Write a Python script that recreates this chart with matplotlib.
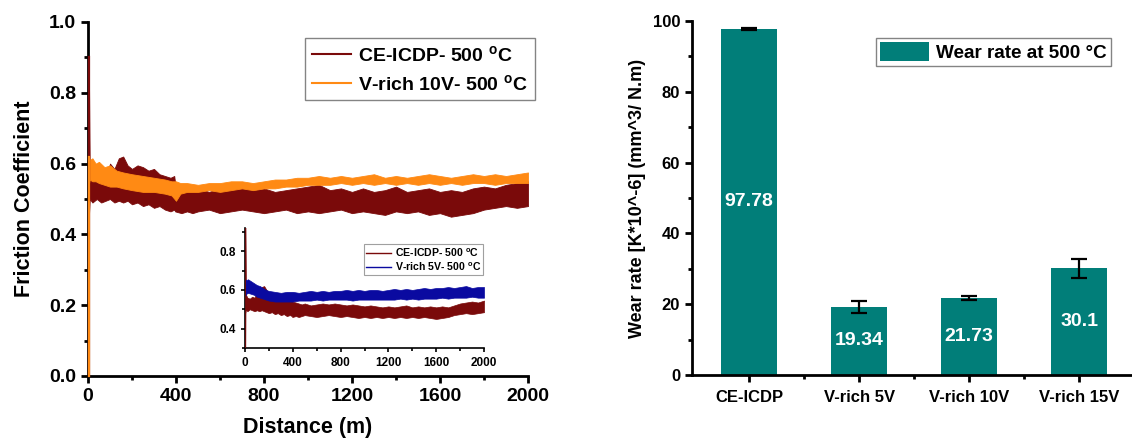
import matplotlib
matplotlib.use("Agg")
import matplotlib.pyplot as plt
from matplotlib.ticker import MultipleLocator, FixedLocator
from matplotlib.lines import Line2D
from matplotlib.patches import Patch

plt.rcParams['font.family'] = ['Liberation Sans', 'DejaVu Sans']
plt.rcParams['font.weight'] = 'bold'
plt.rcParams['mathtext.fontset'] = 'custom'
plt.rcParams['mathtext.rm'] = 'Liberation Sans:bold'
plt.rcParams['mathtext.it'] = 'Liberation Sans:bold'
plt.rcParams['mathtext.bf'] = 'Liberation Sans:bold'

# ---------------- data: friction traces (band envelopes) -------------
d_ce = [0, 4, 8, 20, 40, 60, 80, 100, 120, 140, 160, 180, 200, 225, 250, 275, 300, 325, 350, 375,
        392, 396, 425, 450, 475, 500, 550, 600, 650, 700, 750, 800, 850, 900, 950, 1000, 1050, 1100,
        1150, 1200, 1250, 1300, 1350, 1400, 1450, 1500, 1550, 1600, 1650, 1700, 1750, 1800, 1850,
        1900, 1950, 2000]
ce_hi = [0.90, 0.88, 0.575, 0.56, 0.55, 0.565, 0.555, 0.60, 0.585, 0.615,
         0.62, 0.595, 0.585, 0.595, 0.59, 0.58, 0.585, 0.57, 0.565, 0.56,
         0.565, 0.545, 0.535, 0.53, 0.525, 0.53, 0.52, 0.53, 0.525, 0.535,
         0.525, 0.53, 0.52, 0.525, 0.53, 0.535, 0.54, 0.525, 0.53, 0.52,
         0.53, 0.52, 0.525, 0.535, 0.52, 0.525, 0.53, 0.52, 0.525, 0.52,
         0.53, 0.535, 0.53, 0.54, 0.545, 0.55]
ce_lo = [0.0, 0.45, 0.50, 0.49, 0.50, 0.49, 0.495, 0.50, 0.49, 0.495,
         0.49, 0.495, 0.485, 0.49, 0.48, 0.485, 0.475, 0.48, 0.47, 0.465,
         0.47, 0.465, 0.46, 0.465, 0.46, 0.465, 0.47, 0.46, 0.465, 0.47,
         0.465, 0.46, 0.465, 0.47, 0.46, 0.465, 0.46, 0.465, 0.47, 0.46,
         0.465, 0.46, 0.455, 0.465, 0.46, 0.465, 0.455, 0.46, 0.45, 0.455,
         0.46, 0.47, 0.475, 0.48, 0.475, 0.48]

d_v10 = [0, 3, 8, 20, 35, 50, 75, 100, 130, 160, 200, 250, 300, 350, 380, 400, 420, 450, 500, 550,
         600, 650, 700, 750, 800, 850, 900, 950, 1000, 1050, 1100, 1150, 1200, 1250, 1300, 1350,
         1400, 1450, 1500, 1550, 1600, 1650, 1700, 1750, 1800, 1850, 1900, 1950, 2000]
v10_hi = [0.62, 0.625, 0.61, 0.615, 0.60, 0.605, 0.59, 0.595, 0.58, 0.575,
          0.57, 0.565, 0.56, 0.555, 0.55, 0.55, 0.545, 0.545, 0.54, 0.545,
          0.545, 0.55, 0.55, 0.545, 0.55, 0.555, 0.555, 0.56, 0.56, 0.565,
          0.56, 0.565, 0.56, 0.565, 0.57, 0.56, 0.565, 0.56, 0.565, 0.57,
          0.565, 0.56, 0.565, 0.57, 0.565, 0.57, 0.565, 0.57, 0.575]
v10_lo = [0.0, 0.54, 0.555, 0.55, 0.55, 0.545, 0.54, 0.535, 0.535, 0.53,
          0.525, 0.52, 0.52, 0.515, 0.51, 0.495, 0.515, 0.52, 0.52, 0.525,
          0.52, 0.525, 0.53, 0.525, 0.53, 0.53, 0.535, 0.535, 0.54, 0.54,
          0.54, 0.545, 0.54, 0.545, 0.54, 0.545, 0.54, 0.545, 0.54, 0.545,
          0.54, 0.545, 0.54, 0.545, 0.545, 0.54, 0.545, 0.545, 0.545]

# inset traces
in_ce_hi = [0.95, 0.93, 0.575, 0.56, 0.555, 0.565, 0.56, 0.59, 0.60, 0.615,
            0.62, 0.60, 0.585, 0.58, 0.575, 0.57, 0.565, 0.56, 0.55, 0.545,
            0.55, 0.54, 0.535, 0.53, 0.525, 0.53, 0.52, 0.525, 0.53, 0.525,
            0.53, 0.525, 0.52, 0.525, 0.52, 0.515, 0.52, 0.515, 0.51, 0.515,
            0.51, 0.515, 0.52, 0.51, 0.515, 0.51, 0.515, 0.51, 0.515, 0.51,
            0.52, 0.53, 0.535, 0.54, 0.535, 0.545]
in_ce_lo = [0.0, 0.48, 0.50, 0.49, 0.50, 0.495, 0.49, 0.495, 0.49, 0.495,
            0.49, 0.485, 0.48, 0.485, 0.475, 0.48, 0.47, 0.475, 0.465, 0.47,
            0.465, 0.46, 0.465, 0.46, 0.465, 0.47, 0.465, 0.46, 0.465, 0.47,
            0.465, 0.46, 0.465, 0.46, 0.455, 0.46, 0.455, 0.46, 0.455, 0.46,
            0.455, 0.46, 0.455, 0.46, 0.455, 0.46, 0.455, 0.45, 0.455, 0.46,
            0.47, 0.475, 0.48, 0.475, 0.48, 0.485]

d_v5 = [0, 3, 10, 25, 50, 75, 100, 125, 150, 175,
        200, 250, 300, 350, 400, 450, 500, 550, 600, 650,
        700, 750, 800, 850, 900, 950, 1000, 1050, 1100, 1150,
        1200, 1250, 1300, 1350, 1400, 1450, 1500, 1550, 1600, 1650,
        1700, 1750, 1800, 1850, 1900, 1950, 2000]
v5_hi = [0.60, 0.655, 0.65, 0.655, 0.645, 0.635, 0.625, 0.62, 0.61, 0.60,
         0.595, 0.59, 0.585, 0.59, 0.59, 0.585, 0.59, 0.595, 0.59, 0.595,
         0.59, 0.595, 0.595, 0.60, 0.595, 0.60, 0.595, 0.60, 0.60, 0.595,
         0.60, 0.605, 0.60, 0.605, 0.60, 0.605, 0.61, 0.605, 0.61, 0.61,
         0.615, 0.61, 0.615, 0.62, 0.61, 0.615, 0.615]
v5_lo = [0.58, 0.57, 0.58, 0.585, 0.58, 0.575, 0.565, 0.56, 0.555, 0.55,
         0.545, 0.54, 0.54, 0.54, 0.54, 0.545, 0.545, 0.545, 0.55, 0.545,
         0.55, 0.55, 0.55, 0.55, 0.545, 0.55, 0.55, 0.55, 0.55, 0.55,
         0.55, 0.55, 0.555, 0.55, 0.555, 0.55, 0.555, 0.555, 0.555, 0.56,
         0.555, 0.56, 0.56, 0.56, 0.565, 0.56, 0.56]

# ---------------- data: wear rate bars -------------
categories = ['CE-ICDP', 'V-rich 5V', 'V-rich 10V', 'V-rich 15V']
wear = [97.78, 19.34, 21.73, 30.1]
wear_err = [0.25, 1.7, 0.6, 2.7]
wear_labels = ['97.78', '19.34', '21.73', '30.1']

x_ticks_main = [0, 400, 800, 1200, 1600, 2000]
y_ticks_main = [0.0, 0.2, 0.4, 0.6, 0.8, 1.0]
y_ticks_inset = [0.4, 0.6, 0.8]
y_ticks_bar = [0, 20, 40, 60, 80, 100]

C_CE = '#7a0a0a'
C_V10 = '#ff8a14'
C_V5 = '#0a0aa0'
C_BAR = '#017e79'

W, H = 1132, 441
fig = plt.figure(figsize=(W / 100, H / 100), dpi=100)

def style_axes(ax, lw, major_len, minor_len, labsize):
    for s in ['top', 'right']:
        ax.spines[s].set_visible(False)
    for s in ['left', 'bottom']:
        ax.spines[s].set_linewidth(lw)
    ax.tick_params(which='major', direction='out', length=major_len, width=lw, labelsize=labsize)
    ax.tick_params(which='minor', direction='out', length=minor_len, width=lw)
    for lab in ax.get_xticklabels() + ax.get_yticklabels():
        lab.set_fontweight('bold')

# ---------- main friction plot ----------
ax1 = fig.add_axes([88 / W, (H - 376) / H, 440 / W, 354 / H])
ax1.fill_between(d_ce, ce_lo, ce_hi, color=C_CE, lw=0.6, edgecolor=C_CE)
ax1.fill_between(d_v10, v10_lo, v10_hi, color=C_V10, lw=0.6, edgecolor=C_V10)
# run-in spikes at the start of each trace
ax1.plot([d_ce[1], d_ce[1]], [ce_lo[0], ce_hi[0]], color=C_CE, lw=1.6, zorder=5, clip_on=False)
ax1.plot([d_v10[1], d_v10[1]], [v10_lo[0], v10_hi[0]], color=C_V10, lw=1.6, zorder=6, clip_on=False)
ax1.set_xlim(0, 2000)
ax1.set_ylim(0, 1.0)
ax1.set_xticks(x_ticks_main)
ax1.set_yticks(y_ticks_main)
ax1.set_yticklabels([f'{v:.1f}' for v in y_ticks_main])
ax1.xaxis.set_minor_locator(MultipleLocator(200))
ax1.yaxis.set_minor_locator(MultipleLocator(0.1))
style_axes(ax1, 2.0, 5, 3, 14)
ax1.set_xlabel('Distance (m)', fontsize=15.5, fontweight='bold', labelpad=9)
ax1.set_ylabel('Friction Coefficient', fontsize=15.5, fontweight='bold', labelpad=10)

h_main = [Line2D([], [], color=C_CE, lw=1.5), Line2D([], [], color=C_V10, lw=1.5)]
leg1 = fig.legend(h_main, [r'CE-ICDP- 500 $^\mathrm{o}$C', r'V-rich 10V- 500 $^\mathrm{o}$C'],
                  loc='upper left', bbox_to_anchor=(305 / W, 1 - 38 / H),
                  prop={'size': 14, 'weight': 'bold'}, frameon=True, fancybox=False,
                  edgecolor='#666666', handlelength=2.0, handletextpad=0.4,
                  borderpad=0.35, labelspacing=0.45, borderaxespad=0)
leg1.get_frame().set_linewidth(1.0)

# ---------- inset ----------
axi = fig.add_axes([245 / W, (H - 348) / H, 239 / W, 120 / H])
axi.fill_between(d_ce, in_ce_lo, in_ce_hi, color=C_CE, lw=0.5, edgecolor=C_CE)
axi.fill_between(d_v5, v5_lo, v5_hi, color=C_V5, lw=0.5, edgecolor=C_V5)
axi.plot([d_ce[1], d_ce[1]], [in_ce_lo[0], in_ce_hi[0]], color=C_CE, lw=1.2, zorder=5)
axi.set_xlim(0, 2000)
axi.set_ylim(0.3, 0.92)
axi.set_xticks(x_ticks_main)
axi.set_yticks(y_ticks_inset)
axi.set_yticklabels([f'{v:.1f}' for v in y_ticks_inset])
axi.xaxis.set_minor_locator(MultipleLocator(200))
axi.yaxis.set_minor_locator(MultipleLocator(0.1))
style_axes(axi, 1.2, 3, 2, 8.5)
axi.patch.set_alpha(0)
h_in = [Line2D([], [], color=C_CE, lw=1.0), Line2D([], [], color=C_V5, lw=1.0)]
legi = fig.legend(h_in, [r'CE-ICDP- 500 $^\mathrm{o}$C', r'V-rich 5V- 500 $^\mathrm{o}$C'],
                  loc='upper left', bbox_to_anchor=(364 / W, 1 - 244 / H),
                  prop={'size': 7.6, 'weight': 'bold'}, frameon=True, fancybox=False,
                  edgecolor='#888888', handlelength=2.4, handletextpad=0.3,
                  borderpad=0.2, labelspacing=0.2, borderaxespad=0)
legi.get_frame().set_linewidth(0.8)

# ---------- bar chart ----------
ax2 = fig.add_axes([692 / W, (H - 375) / H, 440 / W, 354 / H])
xpos = list(range(len(categories)))
ax2.bar(xpos, wear, width=0.51, color=C_BAR, zorder=2)
ax2.errorbar(xpos, wear, yerr=wear_err, fmt='none', ecolor='black', elinewidth=1.6,
             capsize=6, capthick=1.6, zorder=3)
for xi, v, lab in zip(xpos, wear, wear_labels):
    ax2.text(xi, v / 2, lab, color='white', ha='center', va='center',
             fontsize=14, fontweight='bold', zorder=4)
ax2.set_xlim(-0.52, 3.48)
ax2.set_ylim(0, 100)
ax2.set_xticks(xpos)
ax2.set_xticklabels(categories)
ax2.set_yticks(y_ticks_bar)
ax2.xaxis.set_minor_locator(FixedLocator([0.5, 1.5, 2.5]))
ax2.yaxis.set_minor_locator(MultipleLocator(10))
style_axes(ax2, 2.0, 5, 3, 12)
ax2.tick_params(axis='x', pad=6)
ax2.set_ylabel('Wear rate [K*10^-6] (mm^3/ N.m)', fontsize=13, fontweight='bold', labelpad=5)

leg2 = fig.legend([Patch(facecolor=C_BAR)], ['Wear rate at 500 °C'],
                  loc='upper left', bbox_to_anchor=(876 / W, 1 - 38 / H),
                  prop={'size': 13.6, 'weight': 'bold'}, frameon=True, fancybox=False,
                  edgecolor='#666666', handlelength=2.6, handleheight=1.2, handletextpad=0.4,
                  borderpad=0.2, borderaxespad=0)
leg2.get_frame().set_linewidth(1.0)

fig.savefig('out.png', dpi=100)
